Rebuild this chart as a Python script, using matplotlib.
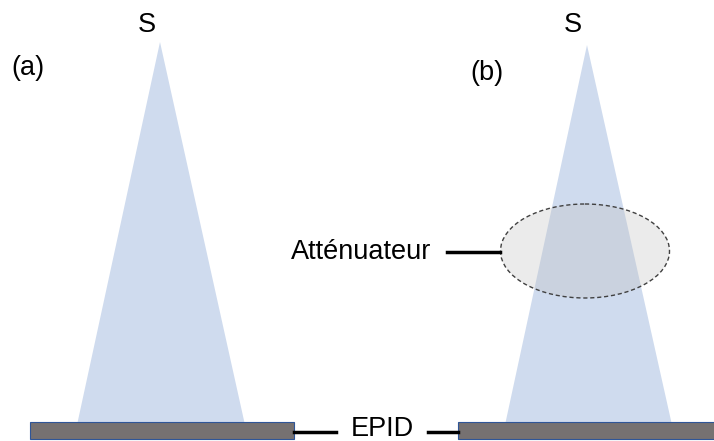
import matplotlib.pyplot as plt
from matplotlib.patches import Polygon, Rectangle, Ellipse

# geometry in pixel coordinates of the original picture (y down)
apex_a = [160, 42]
base_a = [[77, 425], [245, 425]]
apex_b = [587, 45]
base_b = [[505, 425], [672, 425]]
epid_a = [30, 422, 264, 17]
epid_b = [458, 422, 260, 17]
attenuator = [585, 251, 169, 94]

labels = ['S', 'S', '(a)', '(b)', 'Atténuateur', 'EPID']
label_pos = [[147, 25], [573, 25], [28, 68], [487, 73], [431, 252], [382, 429]]

plt.rcParams['font.family'] = ['Liberation Sans', 'DejaVu Sans']

fig = plt.figure(figsize=(7.14, 4.41), dpi=100)
ax = fig.add_axes([0, 0, 1, 1])
ax.set_xlim(0, 714)
ax.set_ylim(441, 0)
ax.axis('off')

beam = '#cfdbee'
ax.add_patch(Polygon([apex_a] + base_a, closed=True, facecolor=beam, edgecolor='none', zorder=1))
ax.add_patch(Polygon([apex_b] + base_b, closed=True, facecolor=beam, edgecolor='none', zorder=1))

# attenuateur
ax.add_patch(Ellipse((attenuator[0], attenuator[1]), attenuator[2], attenuator[3],
                     facecolor='#bfbfbf', alpha=0.3, edgecolor='none', zorder=2))
ax.add_patch(Ellipse((attenuator[0], attenuator[1]), attenuator[2], attenuator[3],
                     facecolor='none', edgecolor='#404040', linestyle=(0, (3, 2)), lw=1.0, zorder=3))

# EPID
for r in [epid_a, epid_b]:
    ax.add_patch(Rectangle((r[0], r[1]), r[2], r[3], facecolor='#767171',
                           edgecolor='#2f5597', lw=0.8, zorder=4))

# lignes de rappel
ax.plot([294, 336], [432, 432], color='black', lw=2.5, zorder=5)
ax.plot([428, 458], [432, 432], color='black', lw=2.5, zorder=5)
ax.plot([447, 500], [252, 252], color='black', lw=2.5, zorder=5)

# textes
fs = 19.5
ax.text(*label_pos[0], labels[0], fontsize=fs, ha='center', va='center')
ax.text(*label_pos[1], labels[1], fontsize=fs, ha='center', va='center')
ax.text(*label_pos[2], labels[2], fontsize=fs, ha='center', va='center')
ax.text(*label_pos[3], labels[3], fontsize=fs, ha='center', va='center')
ax.text(*label_pos[4], labels[4], fontsize=fs, ha='right', va='center')
ax.text(*label_pos[5], labels[5], fontsize=fs, ha='center', va='center')

fig.savefig('out.png', dpi=100)
